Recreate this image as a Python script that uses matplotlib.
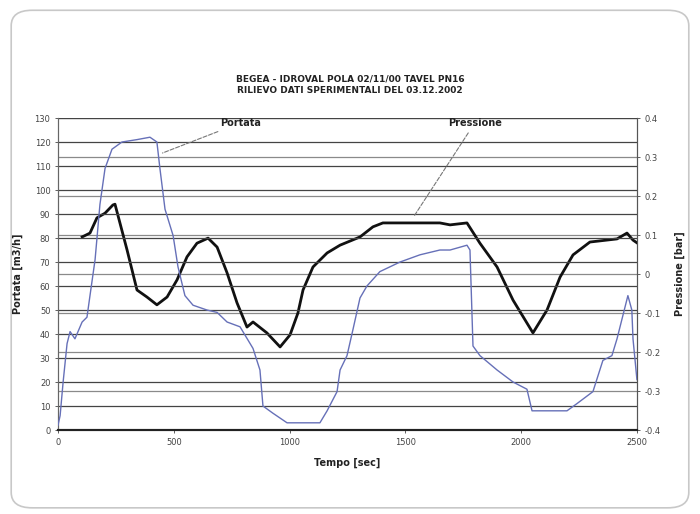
import matplotlib
matplotlib.use("Agg")
import matplotlib.pyplot as plt
from matplotlib.patches import FancyBboxPatch

# Portata (flow, left axis)
flow_t = [0, 9, 22, 39, 52, 73, 104, 125, 138, 160, 181, 203, 233, 276, 341, 397, 427,
          440, 462, 497, 518, 548, 583, 643, 687, 730, 786, 842, 872, 885, 928, 989,
          1045, 1131, 1162, 1205, 1218, 1248, 1274, 1304, 1334, 1390, 1477, 1563, 1649,
          1693, 1766, 1779, 1792, 1822, 1896, 1965, 2025, 2047, 2112, 2198, 2241, 2310,
          2353, 2392, 2414, 2461, 2478, 2483, 2500]
flow_v = [2, 6, 20, 36, 41, 38, 45, 47, 56, 71, 94, 109, 117, 120, 121, 122, 120,
          109, 92, 81, 68, 56, 52, 50, 49, 45, 43, 34, 25, 10, 7, 3,
          3, 3, 8, 16, 25, 31, 42, 55, 60, 66, 70, 73, 75,
          75, 77, 75, 35, 31, 25, 20, 17, 8, 8, 8, 11, 16,
          29, 31, 38, 56, 50, 38, 21]

# Pressione (pressure, right axis)
pres_t = [104, 138, 168, 203, 237, 246, 298, 341, 384, 427, 471, 514, 557, 600, 648,
          687, 730, 773, 816, 842, 902, 959, 1002, 1036, 1058, 1101, 1162, 1218, 1304,
          1360, 1403, 1649, 1693, 1766, 1822, 1896, 1965, 2051, 2112, 2168, 2224, 2297,
          2414, 2457, 2483, 2500]
pres_v = [0.095, 0.105, 0.144, 0.156, 0.177, 0.179, 0.062, -0.041, -0.059, -0.079,
          -0.059, -0.015, 0.044, 0.079, 0.092, 0.069, 0.003, -0.074, -0.136, -0.123,
          -0.151, -0.187, -0.156, -0.100, -0.041, 0.018, 0.054, 0.074, 0.095, 0.121,
          0.131, 0.131, 0.126, 0.131, 0.079, 0.018, -0.067, -0.151, -0.092, -0.008,
          0.049, 0.082, 0.090, 0.105, 0.087, 0.080]

x_ticks = [0, 500, 1000, 1500, 2000, 2500]
left_ticks = list(range(0, 131, 10))
right_ticks = [0.4, 0.3, 0.2, 0.1, 0.0, -0.1, -0.2, -0.3, -0.4]
right_labels = ["0.4", "0.3", "0.2", "0.1", "0", "-0.1", "-0.2", "-0.3", "-0.4"]

title_lines = "BEGEA - IDROVAL POLA 02/11/00 TAVEL PN16\nRILIEVO DATI SPERIMENTALI DEL 03.12.2002"

fig = plt.figure(figsize=(7.0, 5.14), dpi=100)
fig.patch.set_facecolor("white")

frame = FancyBboxPatch((0.016, 0.012), 0.968, 0.968, boxstyle="round,pad=0,rounding_size=0.03",
                       transform=fig.transFigure, facecolor="none", edgecolor="#c8c8c8",
                       linewidth=1.2, zorder=-5)
fig.patches.append(frame)

ax = fig.add_axes([0.0829, 0.1634, 0.827, 0.607])
ax2 = ax.twinx()
ax.set_zorder(ax2.get_zorder() + 1)
ax.patch.set_visible(False)

ax.set_xlim(0, 2500)
ax.set_ylim(0, 130)
ax2.set_ylim(-0.4, 0.4)

ax2.set_yticks(right_ticks)
ax2.set_yticklabels(right_labels)
ax2.grid(axis="y", color="#8a8a8a", linewidth=0.9)
ax.set_yticks(left_ticks)
ax.grid(axis="y", color="#444444", linewidth=0.9)
ax.set_xticks(x_ticks)

ax.plot(flow_t, flow_v, color="#6670b8", linewidth=1.0, zorder=3)
ax2.plot(pres_t, pres_v, color="#111111", linewidth=2.0, zorder=4)

for a in (ax, ax2):
    a.spines["top"].set_visible(False)
    a.spines["left"].set_color("#666666")
    a.spines["right"].set_color("#555555")
    a.spines["bottom"].set_color("#222222")
    a.spines["bottom"].set_linewidth(1.5)
    a.tick_params(labelsize=6, colors="#444444", length=2, width=0.6)

ax.set_xlabel("Tempo [sec]", fontsize=7, fontweight="bold", color="#222222", labelpad=8)
ax.set_ylabel("Portata [m3/h]", fontsize=7, fontweight="bold", color="#222222", labelpad=8)
ax2.set_ylabel("Pressione [bar]", fontsize=7, fontweight="bold", color="#222222", labelpad=10)

fig.text(0.5, 0.835, title_lines, ha="center", va="center", fontsize=6.5,
         fontweight="bold", color="#222222", linespacing=1.4)

ax.annotate("Portata", xy=(440, 115), xytext=(700, 128), fontsize=7, fontweight="bold",
            color="#222222", ha="left", va="center",
            arrowprops=dict(arrowstyle="-", color="#777777", linestyle="--", linewidth=0.8))
ax.annotate("Pressione", xy=(1530, 88), xytext=(1800, 128), fontsize=7, fontweight="bold",
            color="#222222", ha="center", va="center",
            arrowprops=dict(arrowstyle="-", color="#777777", linestyle="--", linewidth=0.8))

fig.savefig("out.png", dpi=100, facecolor="white")
